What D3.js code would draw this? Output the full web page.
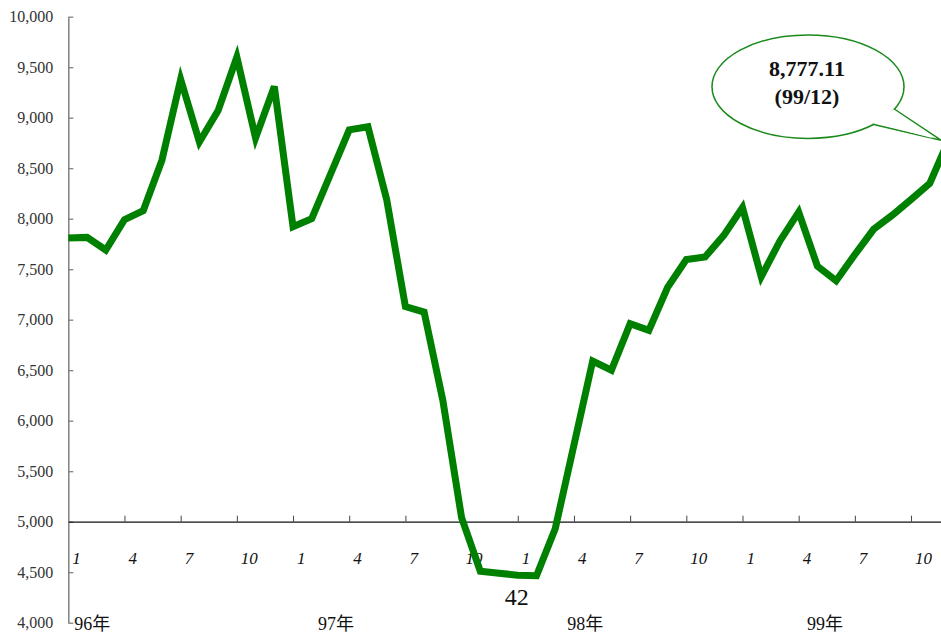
<!DOCTYPE html>
<html lang="zh-Hant">
<head>
<meta charset="UTF-8">
<title>指數走勢</title>
<script src="https://d3js.org/d3.v7.min.js"></script>
<style>
    body { margin: 0; background: #fff; }
    svg { display: block; }
    svg text { font-family: "Liberation Serif", "DejaVu Serif", "Noto Sans CJK TC", serif; }
</style>
</head>
<body>
<svg id="chart" width="941" height="635"></svg>
<script>
    // --- Data ---
    // 96/1 .. 99/12, monthly
    const values = [
        7810, 7815, 7690, 7990, 8080, 8580, 9380, 8760, 9070, 9600, 8800, 9310,
        7920, 8000, 8440, 8880, 8910, 8190, 7130, 7075, 6200, 5040, 4510, 4490,
        4470, 4465, 4930, 5760, 6590, 6500, 6960, 6895, 7320, 7595, 7620, 7835,
        8110, 7425, 7780, 8065, 7530, 7385, 7645, 7895, 8035, 8190, 8350, 8777.11
    ];
    const monthTicks = [0, 3, 6, 9, 12, 15, 18, 21, 24, 27, 30, 33, 36, 39, 42, 45];
    const monthLabels = ['1', '4', '7', '10', '1', '4', '7', '10', '1', '4', '7', '10', '1', '4', '7', '10'];
    const yearLabels = ['96年', '97年', '98年', '99年'];
    const yearPos = [0, 14.3, 27.6, 40.4];
    const yTicks = [4000, 4500, 5000, 5500, 6000, 6500, 7000, 7500, 8000, 8500, 9000, 9500, 10000];
    const lowLabel = '42';
    const calloutLines = ['8,777.11', '(99/12)'];

    const serif = '"Liberation Serif", "DejaVu Serif", "Noto Sans CJK TC", serif';
    const svg = d3.select('#chart');
    const x = d3.scaleLinear().domain([0, values.length - 1]).range([68.3, 948.5]);
    const y = d3.scaleLinear().domain([4000, 10000]).range([622.7, 16.7]);

    // --- Y axis (ticks point inward) ---
    const yAxis = svg.append('g')
        .attr('transform', `translate(${x(0)},0)`)
        .call(d3.axisLeft(y).tickValues(yTicks).tickSizeInner(-5).tickSizeOuter(0).tickPadding(15)
            .tickFormat(d3.format(',')));
    yAxis.attr('font-family', null);
    yAxis.select('.domain').attr('stroke', '#808080').attr('stroke-width', 1.5);
    yAxis.selectAll('.tick line').attr('stroke', '#808080').attr('stroke-width', 1.3);
    yAxis.selectAll('.tick text')
        .style('font-family', serif)
        .style('font-size', '16px')
        .attr('fill', '#333');

    // --- Base line at 5,000 with upward ticks ---
    const xAxis = svg.append('g')
        .attr('transform', `translate(0,${y(5000)})`)
        .call(d3.axisTop(x).tickValues(monthTicks.slice(1)).tickSizeInner(6).tickSizeOuter(0).tickFormat(''));
    xAxis.select('.domain').attr('stroke', '#111').attr('stroke-width', 1.3);
    xAxis.selectAll('.tick line').attr('stroke', '#444').attr('stroke-width', 1);

    // month labels
    svg.append('g').selectAll('text')
        .data(monthTicks)
        .enter().append('text')
        .attr('x', d => x(d) + 4)
        .attr('y', 564)
        .style('font-family', serif)
        .style('font-size', '17px')
        .style('font-style', 'italic')
        .attr('fill', '#111')
        .text((d, i) => monthLabels[i]);

    // year labels
    svg.append('g').selectAll('text')
        .data(yearLabels)
        .enter().append('text')
        .attr('x', (d, i) => i === 0 ? x(0) + 6 : x(yearPos[i]))
        .attr('y', 630)
        .attr('text-anchor', (d, i) => i === 0 ? 'start' : 'middle')
        .style('font-family', serif)
        .style('font-size', '18px')
        .attr('fill', '#111')
        .text(d => d);

    // --- Line ---
    const line = d3.line().x((d, i) => x(i)).y(d => y(d));
    svg.append('path')
        .datum(values)
        .attr('d', line)
        .attr('fill', 'none')
        .attr('stroke', '#008000')
        .attr('stroke-width', 7)
        .attr('stroke-linejoin', 'miter');

    // low label
    svg.append('text')
        .attr('x', x(24) - 1)
        .attr('y', 605)
        .attr('text-anchor', 'middle')
        .style('font-family', serif)
        .style('font-size', '24px')
        .attr('fill', '#111')
        .text(lowLabel);

    // --- Callout ---
    const last = values.length - 1;
    const cx = 808, cy = 86.7, rx = 96, ry = 51.7;
    const tip = [941, y(values[last])];
    const callout = svg.append('g');
    callout.append('ellipse')
        .attr('cx', cx).attr('cy', cy).attr('rx', rx).attr('ry', ry)
        .attr('fill', '#fff').attr('stroke', '#1a8a1a').attr('stroke-width', 1.5);
    // pointer: two edges from ellipse to tip, white fill covers ellipse outline
    callout.append('path')
        .attr('d', `M894.3,109 L${tip[0]},${tip[1]} L872.7,124.3`)
        .attr('fill', '#fff').attr('stroke', '#1a8a1a').attr('stroke-width', 1.5)
        .attr('stroke-linejoin', 'miter');
    callout.append('path')
        .attr('d', `M893,110.5 L${tip[0] - 8},${tip[1] - 2} L874,123`)
        .attr('fill', '#fff').attr('stroke', 'none');
    callout.selectAll('text.lbl')
        .data(calloutLines)
        .enter().append('text')
        .attr('class', 'lbl')
        .attr('x', cx - 1)
        .attr('y', (d, i) => 76 + i * 28)
        .attr('text-anchor', 'middle')
        .style('font-family', serif)
        .style('font-size', '22px')
        .style('font-weight', 'bold')
        .attr('fill', '#111')
        .text(d => d);
</script>
</body>
</html>
